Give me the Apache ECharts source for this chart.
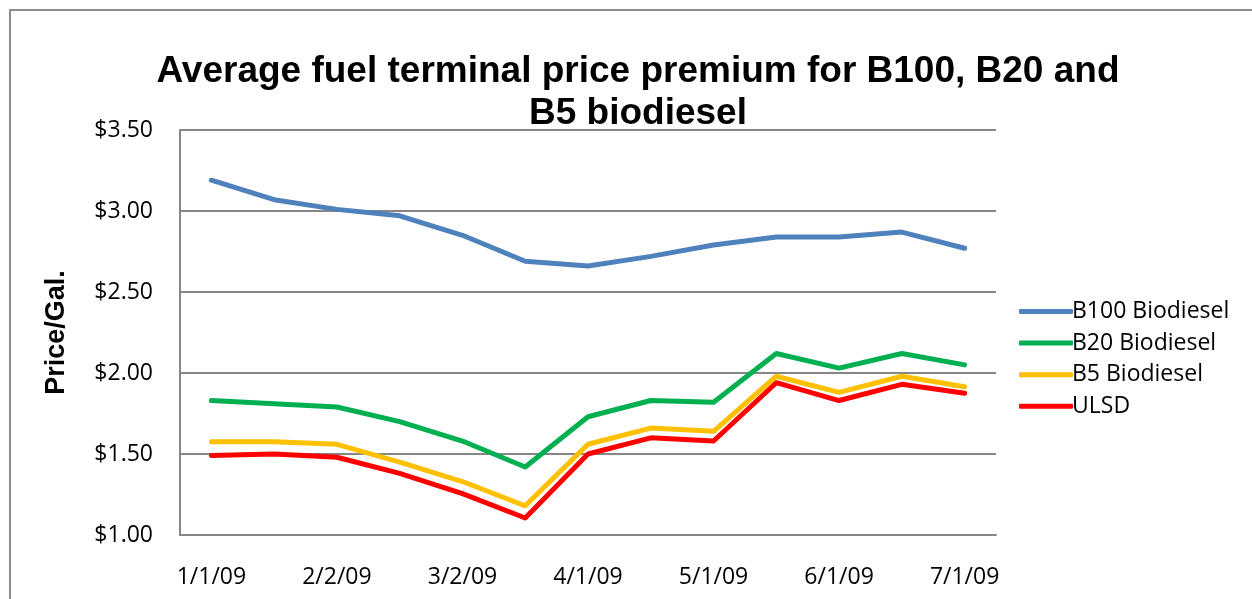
<!DOCTYPE html>
<html><head><meta charset="utf-8">
<script src="https://cdn.jsdelivr.net/npm/echarts@6/dist/echarts.min.js"></script>
<style>html,body{margin:0;padding:0;background:#fff}#c{width:1252px;height:599px}</style>
</head><body><div id="c"></div>
<script>
const categories = ['1/1/09','1/15/09','2/2/09','2/16/09','3/2/09','3/16/09','4/1/09','4/15/09','5/1/09','5/15/09','6/1/09','6/15/09','7/1/09'];
const b100 = [3.19,3.07,3.01,2.97,2.85,2.69,2.66,2.72,2.79,2.84,2.84,2.87,2.77];
const b20  = [1.83,1.81,1.79,1.70,1.58,1.42,1.73,1.83,1.82,2.12,2.03,2.12,2.05];
const b5   = [1.575,1.575,1.56,1.45,1.33,1.18,1.56,1.66,1.64,1.98,1.88,1.98,1.915];
const ulsd = [1.49,1.50,1.48,1.38,1.255,1.105,1.50,1.60,1.58,1.94,1.83,1.93,1.875];
const seriesNames = ['B100 Biodiesel','B20 Biodiesel','B5 Biodiesel','ULSD'];
const colors = ['#4F81BD','#00B050','#FFC000','#FF0000'];
const title = 'Average fuel terminal price premium for B100, B20 and\nB5 biodiesel';
const yName = 'Price/Gal.';

const chart = echarts.init(document.getElementById('c'));
const labelFont = 'Open Sans';
const data = [b100,b20,b5,ulsd];
chart.setOption({
  animation:false,
  color: colors,
  graphic:[{type:'rect',shape:{x:10,y:10,width:1300,height:700},style:{fill:'none',stroke:'#8c8c8c',lineWidth:2},silent:true}],
  title:{text:title,left:633,textAlign:'center',top:46,textStyle:{fontFamily:'Liberation Sans',fontWeight:'bold',fontSize:37,lineHeight:42,color:'#000'}},
  grid:{left:180,right:256,top:130,bottom:64,containLabel:false},
  legend:{orient:'vertical',left:1014,top:295,itemWidth:54,itemHeight:5,itemGap:8.6,icon:'roundRect',
    textStyle:{fontFamily:labelFont,fontSize:23,lineHeight:23,color:'#000',padding:[0,0,0,-6]},
    data:seriesNames},
  xAxis:{type:'category',data:categories,boundaryGap:true,
    axisLine:{lineStyle:{color:'#868686',width:2}},axisTick:{show:false},
    axisLabel:{interval:1,fontFamily:labelFont,fontSize:23,color:'#000',margin:31}},
  yAxis:{type:'value',min:1,max:3.5,interval:0.5,name:yName,nameLocation:'middle',nameGap:110,nameRotate:90,
    nameTextStyle:{fontFamily:'Liberation Sans',fontWeight:'bold',fontSize:27,color:'#000'},
    axisLine:{show:true,lineStyle:{color:'#868686',width:2}},axisTick:{show:false},
    splitLine:{lineStyle:{color:'#868686',width:2}},
    axisLabel:{fontFamily:labelFont,fontSize:23,color:'#000',margin:27,formatter:v=>'$'+v.toFixed(2)}},
  series: seriesNames.map((n,i)=>({name:n,type:'line',data:data[i],symbol:'none',lineStyle:{width:5,color:colors[i],cap:'round',join:'round'},itemStyle:{color:colors[i]}}))
});
</script></body></html>
